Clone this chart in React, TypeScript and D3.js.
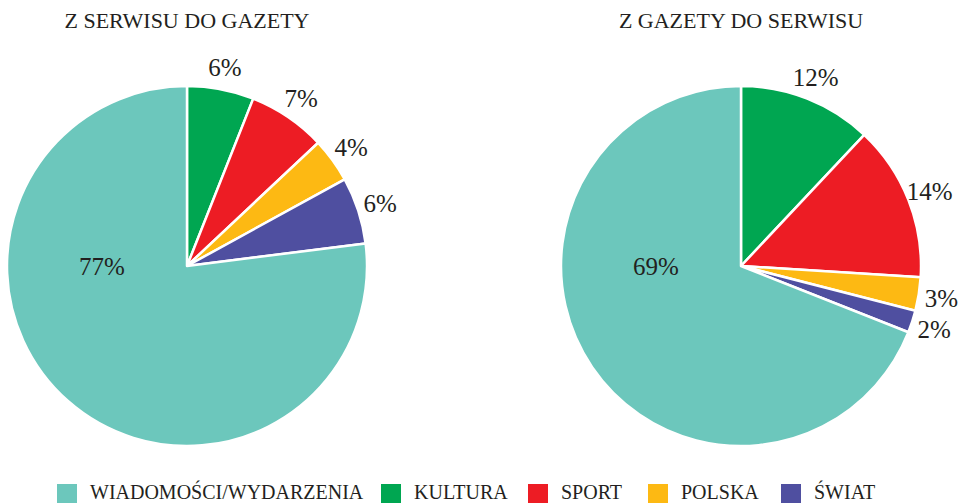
import React from "react";
import * as d3 from "d3";

const categories = ["KULTURA", "SPORT", "POLSKA", "ŚWIAT", "WIADOMOŚCI/WYDARZENIA"];
const colors = ["#00A651", "#ED1C24", "#FDB913", "#4F4FA0", "#6CC7BC"];
const leftValues = [6, 7, 4, 6, 77];
const rightValues = [12, 14, 3, 2, 69];
const titles = ["Z SERWISU DO GAZETY", "Z GAZETY DO SERWISU"];
const legendOrder = [4, 0, 1, 2, 3];

const W = 961;
const H = 503;
const R = 180;
const FONT = "Liberation Serif, serif";

function Pie({ cx, cy, values, title }: { cx: number; cy: number; values: number[]; title: string }) {
  const pie = d3.pie<number>().sort(null).value((d) => d);
  const arcs = pie(values);
  const arc = d3.arc<d3.PieArcDatum<number>>().innerRadius(0).outerRadius(R);
  const labelArc = d3.arc<d3.PieArcDatum<number>>().innerRadius(203).outerRadius(203);
  const last = arcs.length - 1;
  return (
    <g>
      <text x={cx} y={28} textAnchor="middle" fontSize={22} style={{ fontFamily: FONT }} fill="#231F20">
        {title}
      </text>
      <g transform={`translate(${cx},${cy})`}>
        {arcs.map((a, i) => (
          <path key={i} d={arc(a) || ""} fill={colors[i]} stroke="#fff" strokeWidth={2.5} strokeLinejoin="round" />
        ))}
        {arcs.map((a, i) => {
          const [lx, ly] = i === last ? [-85, 0] : labelArc.centroid(a);
          return (
            <text key={"l" + i} x={lx} y={ly + 9} textAnchor="middle" fontSize={25} style={{ fontFamily: FONT }} fill="#231F20">
              {a.data}%
            </text>
          );
        })}
      </g>
    </g>
  );
}

export default function App() {
  const legendX = [57, 381, 528, 648, 781];
  return (
    <svg width={W} height={H} style={{ position: "absolute", left: 0, top: 0 }}>
      <rect width={W} height={H} fill="#fff" />
      <Pie cx={187} cy={266} values={leftValues} title={titles[0]} />
      <Pie cx={741} cy={266} values={rightValues} title={titles[1]} />
      {legendOrder.map((ci, k) => (
        <g key={ci} transform={`translate(${legendX[k]},0)`}>
          <rect x={0} y={484} width={20} height={19} fill={colors[ci]} />
          <text x={33} y={499} fontSize={20} style={{ fontFamily: FONT }} fill="#231F20">
            {categories[ci]}
          </text>
        </g>
      ))}
    </svg>
  );
}
